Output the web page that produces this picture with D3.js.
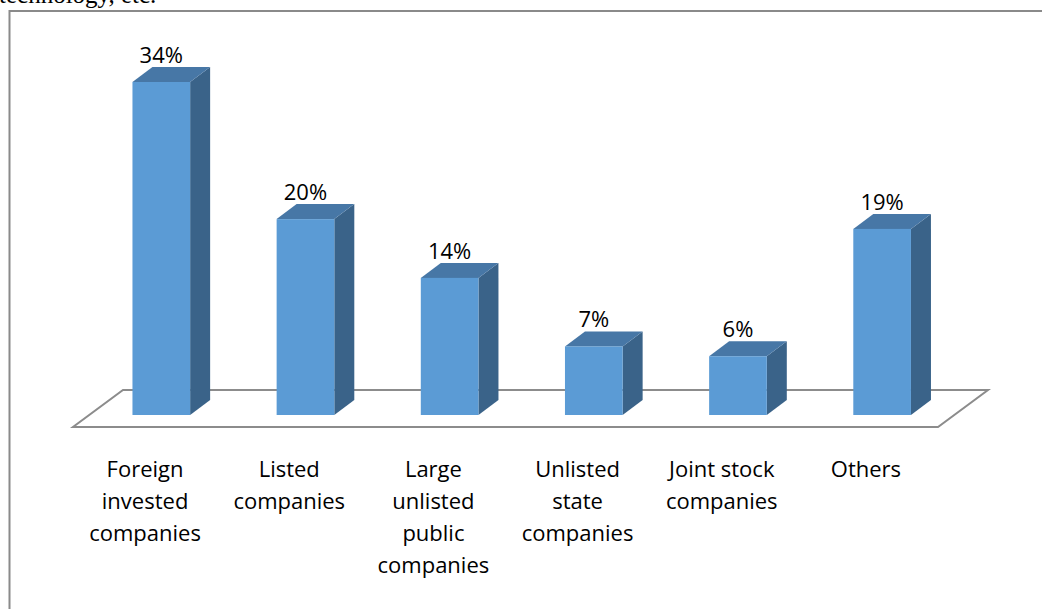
<!DOCTYPE html>
<html>
<head>
<meta charset="utf-8">
<script src="https://cdn.jsdelivr.net/npm/d3@7"></script>
<style>
  body { margin: 0; background: #fff; }
  svg { display: block; }
</style>
</head>
<body>
<div id="chart"></div>
<script>
// data
var categories = ["Foreign invested companies", "Listed companies", "Large unlisted public companies",
  "Unlisted state companies", "Joint stock companies", "Others"];
var categoryLines = [
  ["Foreign", "invested", "companies"],
  ["Listed", "companies"],
  ["Large", "unlisted", "public", "companies"],
  ["Unlisted", "state", "companies"],
  ["Joint stock", "companies"],
  ["Others"]
];
var values = [34, 20, 14, 7, 6, 19];

var width = 1042, height = 609;

var svg = d3.select("#chart")
  .append("svg")
  .attr("width", width)
  .attr("height", height);

// text cut off at the top of the page
svg.append("text")
  .attr("x", -1)
  .attr("y", 3)
  .style("font-family", "'Liberation Serif', 'Times New Roman', serif")
  .style("font-size", "25px")
  .text("technology, etc.");

// frame
svg.append("rect")
  .attr("x", 9.5)
  .attr("y", 11)
  .attr("width", 1100)
  .attr("height", 700)
  .attr("fill", "none")
  .attr("stroke", "#8a8a8a")
  .attr("stroke-width", 2);

// floor geometry (3d look)
var floorFront = 427, floorBack = 390;
var floorLeft = 73, floorRight = 938, floorShift = 50;
var barBase = 415;
var barShift = floorShift * (floorFront - barBase) / (floorFront - floorBack);
var depthX = 20, depthY = 15;

// scales
var xLabel = d3.scaleBand()
  .domain(categories)
  .range([floorLeft, floorRight]);

var xBar = d3.scaleBand()
  .domain(categories)
  .range([floorLeft + barShift, floorRight + barShift])
  .paddingInner(0.6)
  .paddingOuter(0.3);

var y = d3.scaleLinear()
  .domain([0, 34])
  .range([barBase, 82]);

// floor
svg.append("polygon")
  .attr("points", [
    [floorLeft, floorFront], [floorRight, floorFront],
    [floorRight + floorShift, floorBack], [floorLeft + floorShift, floorBack]
  ].map(function (p) { return p.join(","); }).join(" "))
  .attr("fill", "#fff")
  .attr("stroke", "#8c8c8c")
  .attr("stroke-width", 2);

var data = categories.map(function (c, i) { return { cat: c, v: values[i], lines: categoryLines[i] }; });

var bars = svg.selectAll(".bar")
  .data(data)
  .enter().append("g")
  .attr("class", "bar");

// side face
bars.append("polygon")
  .attr("points", function (d) {
    var x1 = xBar(d.cat) + xBar.bandwidth(), t = y(d.v);
    return [[x1, t], [x1 + depthX, t - depthY], [x1 + depthX, barBase - depthY], [x1, barBase]]
      .map(function (p) { return p.join(","); }).join(" ");
  })
  .attr("fill", "#3a6389");

// top face
bars.append("polygon")
  .attr("points", function (d) {
    var x0 = xBar(d.cat), x1 = x0 + xBar.bandwidth(), t = y(d.v);
    return [[x0, t], [x0 + depthX, t - depthY], [x1 + depthX, t - depthY], [x1, t]]
      .map(function (p) { return p.join(","); }).join(" ");
  })
  .attr("fill", "#4777a6");

// front face
bars.append("rect")
  .attr("x", function (d) { return xBar(d.cat); })
  .attr("y", function (d) { return y(d.v); })
  .attr("width", xBar.bandwidth())
  .attr("height", function (d) { return barBase - y(d.v); })
  .attr("fill", "#5b9bd5");

// value labels
bars.append("text")
  .attr("x", function (d) { return xBar(d.cat) + xBar.bandwidth() / 2; })
  .attr("y", function (d) { return y(d.v) - 19; })
  .attr("text-anchor", "middle")
  .style("font-family", "'Open Sans', sans-serif")
  .style("font-size", "22px")
  .style("fill", "#000")
  .text(function (d) { return d.v + "%"; });

// category labels
var labels = svg.selectAll(".cat")
  .data(data)
  .enter().append("text")
  .attr("class", "cat")
  .attr("text-anchor", "middle")
  .style("font-family", "'Open Sans', sans-serif")
  .style("font-size", "22px")
  .style("fill", "#000");

labels.selectAll("tspan")
  .data(function (d) { return d.lines.map(function (l, i) { return { cat: d.cat, text: l, i: i }; }); })
  .enter().append("tspan")
  .attr("x", function (d) { return xLabel(d.cat) + xLabel.bandwidth() / 2; })
  .attr("y", function (d) { return 477 + d.i * 32; })
  .text(function (d) { return d.text; });
</script>
</body>
</html>
